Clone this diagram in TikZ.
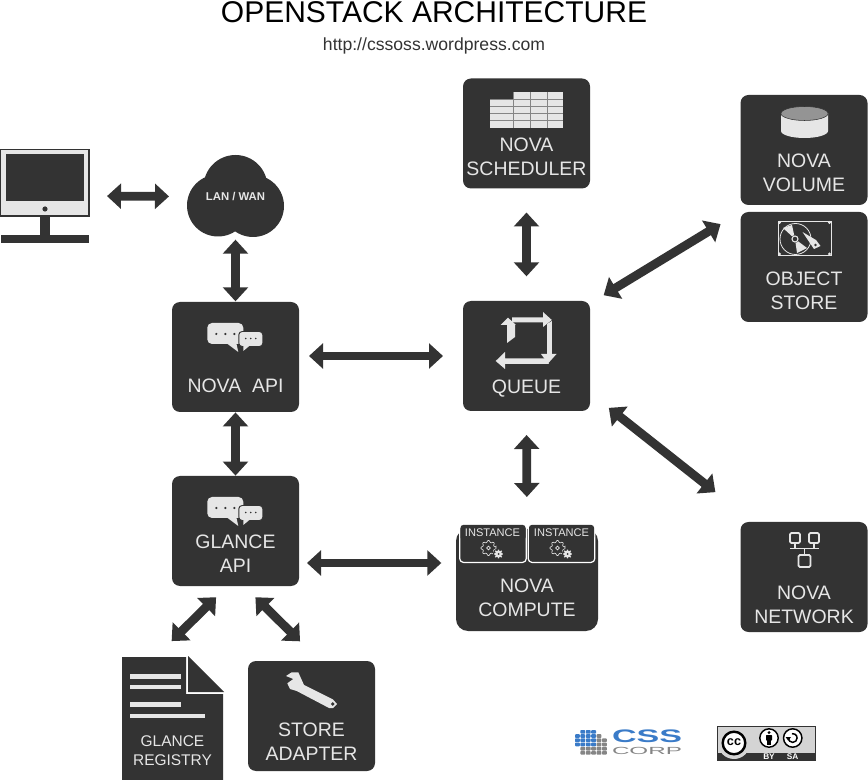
\documentclass[tikz,border=0pt]{standalone}
\usepackage{fontspec}
\setmainfont{Liberation Sans}
\usetikzlibrary{arrows.meta,calc}
\definecolor{dark}{HTML}{333333}
\definecolor{light}{HTML}{E6E6E6}
\definecolor{cssblue}{HTML}{3A7BC8}
\definecolor{cssgray}{HTML}{858585}
\tikzset{
  x=0.75pt,y=-0.75pt,
  panel/.style={fill=dark,rounded corners=6pt,inner sep=0pt,outer sep=0pt,minimum width=95.25pt,minimum height=82.5pt},
  ghost/.style={inner sep=0pt,outer sep=0pt},
  paneltext/.style={text=light,align=center,inner sep=0pt,font=\fontsize{14.6}{18}\selectfont},
  dblarrow/.style={draw=dark,line width=6.6pt,{Triangle[length=10.5pt,width=18.5pt]}-{Triangle[length=10.5pt,width=18.5pt]}},
  iconline/.style={draw=light,line width=1.3pt},
  pics/chat/.style={code={
    \fill[light,rounded corners=3.5pt] (0,0) rectangle (36,21);
    \fill[light] (19,20) -- (31,29) -- (29,20) -- cycle;
    \foreach \q in {9,18,27}{\fill[dark] (\q,11) circle (1.2);}
    \filldraw[fill=light,draw=dark,line width=.7pt,rounded corners=2.5pt] (31.5,8.5) rectangle (55.5,23.5);
    \fill[light] (36,23) -- (36,28) -- (42,23) -- cycle;
    \foreach \q in {38.5,43.5,48.5}{\fill[dark] (\q,15.5) circle (.9);}
  }},
  pics/gears/.style={code={
    \draw[light,line width=.5pt,rounded corners=.5pt] (-8:7.6) foreach \a in {0,45,...,315}{ -- (\a-8:7.6) -- (\a+8:7.6) -- (\a+14:5.8) -- (\a+31:5.8)} -- cycle;
    \draw[light,line width=.5pt] (0,0) circle (1.8);
    \fill[dark] (10,6) circle (5.6);
    \begin{scope}[shift={(10,6)}]
      \fill[light] (-8:4.5) foreach \a in {0,45,...,315}{ -- (\a-8:4.5) -- (\a+8:4.5) -- (\a+14:3.2) -- (\a+31:3.2)} -- cycle;
      \fill[dark] (0,0) circle (1);
    \end{scope}
  }}
}
\begin{document}
\begin{tikzpicture}
\useasboundingbox[fill=white] (0,0) rectangle (868,780);
% title
\node[ghost,font=\fontsize{22.5}{26}\selectfont,text=black] (title) at (434,12) {OPENSTACK ARCHITECTURE};
\node[ghost,font=\fontsize{13.2}{16}\selectfont,text=dark] (url) at (434,45.5) {http://cssoss.wordpress.com};

% panels
\node[panel] (sched) at (526.5,133.5) {};
\node[panel] (volume) at (804,150) {};
\node[panel] (object) at (804,267) {};
\node[panel] (queue) at (526.5,356) {};
\node[panel] (napi) at (235.5,357) {};
\node[panel] (gapi) at (235.5,531) {};
\node[panel] (network) at (804,577) {};
\node[panel] (store) at (311.5,716) {};
\node[fill=dark,rounded corners=9pt,inner sep=0pt,outer sep=0pt,minimum width=106.5pt,minimum height=76.5pt] (compute) at (527,580) {};

% monitor
\node[ghost,minimum width=66.75pt,minimum height=70.5pt] (monitor) at (44.5,196) {};
\fill[light,draw=dark,line width=.9pt] (0,149.5) rectangle (89,216);
\fill[dark] (6,154) rectangle (84,201);
\fill[dark] (45,209) circle (2.6);
\fill[dark] (40,216) rectangle (50,235);
\fill[dark] (1,235) rectangle (89,243.5);

% cloud
\fill[dark] (235.5,187) circle (32) (218,205.5) circle (31) (253,206) circle (31);
\node[ghost,minimum width=72.75pt,minimum height=60.75pt,text=light,font=\fontsize{8.5}{10}\selectfont\bfseries] (cloud) at (235.5,196.5) {LAN / WAN};

% scheduler icon
\fill[light] (514,92.3) rectangle (563,128.3);
\fill[light] (490,99.5) rectangle (514,128.3);
\foreach \yy in {99.6,106.4,113.5,120.8}{\draw[cssgray,line width=.6pt] (490,\yy) -- (563,\yy);}
\foreach \xx in {513.5,530.5,547}{\draw[cssgray,line width=.4pt] (\xx,92.3) -- (\xx,128.3);}
\node[paneltext] (schedt) at (526.5,157) {NOVA\\SCHEDULER};

% volume icon
\fill[light] (781,113) -- (781,131) arc[start angle=180,end angle=360,x radius=23.5,y radius=-7] -- (828,113) -- cycle;
\fill[cssgray!85!light,draw=dark,line width=.4pt] (804.5,113.5) ellipse (23.5 and 7);
\node[paneltext] (volumet) at (804,173) {NOVA\\VOLUME};

% object icon
\draw[light,line width=.7pt] (778,221) rectangle (831,255.5);
\foreach \cx/\cy in {779.5/222.5,829.5/222.5,779.5/254,829.5/254}{\fill[light] (\cx,\cy) circle (1.6);}
\draw[light,line width=.6pt] (795.5,239) circle (15.5);
\fill[light] (795,239) -- (783,228) -- (792,225) -- cycle;
\fill[light] (795,239) -- (797,253) -- (807,248) -- cycle;
\fill[dark] (795,239) circle (4);
\draw[light,line width=.8pt] (795,239) circle (3);
\fill[light] (802.5,232) -- (816,240) -- (820.5,246) -- (814,249) -- (808.5,241) -- cycle;
\fill[dark] (815.5,245) circle (1.4);
\node[paneltext] (objectt) at (804,291) {OBJECT\\STORE};

% queue icon
\fill[light] (512,317.5) -- (543,317.5) -- (543,312) -- (551.8,320) -- (543,327) -- (543,322.5) -- (512,322.5) -- cycle;
\fill[light] (547,324) -- (551.8,321) -- (551.8,354) -- (556.5,354) -- (548,363.5) -- (541,354) -- (547,354) -- cycle;
\fill[light] (505,352) -- (505,358.5) -- (546,358.5) -- (549,364) -- (505,364) -- (505,369) -- (495.7,361) -- cycle;
\fill[light] (508,317.7) -- (516,325) -- (515,325) -- (515,337) -- (507,343) -- (507,325) -- (500.5,325) -- cycle;
\node[paneltext] (queuet) at (526.5,389) {QUEUE};

% chat icons
\pic at (207.3,323) {chat};
\pic at (207.3,497) {chat};
\node[paneltext] (napit) at (235.5,386) {NOVA\ \ API};
\node[paneltext] (gapit) at (235.5,554) {GLANCE\\API};

% compute
\node[fill=dark,draw=white,line width=.9pt,rounded corners=3pt,inner sep=0pt,outer sep=0pt,minimum width=50pt,minimum height=28.5pt] (inst1) at (493,543.5) {};
\node[fill=dark,draw=white,line width=.9pt,rounded corners=3pt,inner sep=0pt,outer sep=0pt,minimum width=50pt,minimum height=28.5pt] (inst2) at (561.5,543.5) {};
\fill[white] (455,524) rectangle (598,528);
\fill[dark,rounded corners=2pt] (460.5,525) rectangle (525.5,540);
\fill[dark,rounded corners=2pt] (529,525) rectangle (594,540);
\node[paneltext,font=\fontsize{8.3}{10}\selectfont] (inst1t) at (492.5,532.5) {INSTANCE};
\node[paneltext,font=\fontsize{8.3}{10}\selectfont] (inst2t) at (561.5,532.5) {INSTANCE};
\pic at (488.5,548) {gears};
\pic at (557.5,548) {gears};
\node[paneltext] (computet) at (527,598) {NOVA\\COMPUTE};

% network icon
\draw[iconline,rounded corners=1pt] (790,533) rectangle (800,543);
\draw[iconline,rounded corners=1pt] (809,533) rectangle (819,543);
\draw[iconline,rounded corners=1pt] (798.5,555) rectangle (810.5,567);
\draw[iconline] (795,543) -- (795,548.5);
\draw[iconline] (814,543) -- (814,548.5);
\draw[iconline] (790,548.5) -- (819,548.5);
\draw[iconline] (804.5,548.5) -- (804.5,555);
\node[paneltext] (networkt) at (804,605) {NOVA\\NETWORK};

% registry
\node[ghost,minimum width=75.75pt,minimum height=92.25pt] (registry) at (172.5,718.5) {};
\fill[dark] (122,657) -- (186,657) -- (186,694) -- (223,694) -- (223,780) -- (122,780) -- cycle;
\fill[dark] (188,656) -- (224,692) -- (188,692) -- cycle;
\fill[light] (130,674) rectangle (181,678.5);
\fill[light] (130,685) rectangle (181,689);
\fill[light] (130,702) rectangle (181,706.5);
\fill[light] (130,713.5) rectangle (205,718);
\node[paneltext,font=\fontsize{11.6}{14.3}\selectfont] (registryt) at (172.5,750.5) {GLANCE\\REGISTRY};

% wrench
\fill[light] (286,676) -- (291.7,672.3) -- (298.3,672.3) -- (304,685) -- (333,699.5) -- (337,704) -- (333,708) -- (329,708) -- (296.7,691) -- (290,689) -- (287.3,683.3) -- (293.3,679) -- cycle;
\fill[dark] (332.7,704) circle (1.8);
\node[paneltext] (storet) at (311.5,741.5) {STORE\\ADAPTER};

% connectors
\draw[dblarrow,shorten <=13.5pt,shorten >=13.5pt] (monitor.east) -- (cloud.west);
\draw[dblarrow,shorten <=2pt,shorten >=.5pt] (cloud.south) -- (napi.north);
\draw[dblarrow,shorten <=.3pt,shorten >=.3pt] (napi.south) -- (gapi.north);
\draw[dblarrow,shorten <=7.5pt,shorten >=15pt] (napi.east |- queue.west) -- (queue.west);
\draw[dblarrow,shorten <=18pt,shorten >=18.5pt] (sched.south) -- (queue.north);
\draw[dblarrow,shorten <=18pt,shorten >=24pt] (queue.south) -- (compute.north);
\draw[dblarrow,shorten <=6pt,shorten >=11pt] ([shift={(0,32)}]gapi.east) -- ([shift={(0,-17)}]compute.west);
\draw[dblarrow,shorten <=12pt,shorten >=17.5pt] ([shift={(0,2.5)}]queue.north east) -- (object.north west);
\draw[dblarrow,shorten <=18pt,shorten >=24pt] ([shift={(0,-18)}]queue.south east) -- ([shift={(0,-10)}]network.north west);
\draw[dblarrow,shorten <=12pt,shorten >=17pt] ([shift={(-8,0)}]gapi.south) -- ([shift={(-17,0)}]registry.north);
\draw[dblarrow,shorten <=12pt,shorten >=21pt] ([shift={(8.5,0)}]gapi.south) -- ([shift={(8.5,0)}]store.north);

% css logo
\foreach \r/\c/\cc in {0/1/cssblue,0/2/cssblue,0/3/cssblue,
  1/0/cssblue,1/1/cssblue,1/2/cssblue,1/3/cssblue,1/4/cssgray,
  2/0/cssblue,2/1/cssblue,2/2/cssblue,2/3/cssblue,2/4/cssgray,2/5/cssgray,
  3/0/cssblue,3/1/cssblue,3/2/cssblue,3/3/cssblue,3/4/cssgray,3/5/cssgray,
  4/1/cssgray,4/2/cssgray,4/3/cssgray,4/4/cssgray,4/5/cssgray,
  5/1/cssgray,5/2/cssgray,5/3/cssgray,5/4/cssgray,5/5/cssgray}{
  \fill[\cc,rounded corners=.6pt] ({575+\c*5.4},{730+\r*4.2}) rectangle ++(4.8,3.7);
}
\node[ghost,text=cssblue] (csst) at (647,736.3) {\resizebox{52.5pt}{9.5pt}{\bfseries CSS}};
\node[ghost,text=cssgray] (corpt) at (647,750.5) {\resizebox{52.5pt}{5.4pt}{CORP}};

% cc badge
\fill[cssgray!35!white,draw=dark,line width=.6pt] (717.5,726.5) rectangle (815.5,760.5);
\fill[dark] (717.5,753) rectangle (815.5,760.5);
\fill[cssgray!35!white] (734,743) circle (16);
\fill[white,draw=black,line width=1.8pt] (734,743) circle (11.3);
\node[ghost,font=\fontsize{9.5}{10}\selectfont\bfseries] (cct) at (734,742.5) {cc};
\fill[white,draw=black,line width=1.1pt] (769,738) circle (9.2);
\fill[black] (769,732.6) circle (1.6);
\fill[black,rounded corners=.4pt] (766,735) rectangle (772,740.5);
\fill[black] (767.4,740) rectangle (770.6,745);
\fill[white,draw=black,line width=1.1pt] (792.7,738) circle (9.2);
\draw[black,line width=1.1pt] (788.3,738) arc[start angle=180,end angle=-100,radius=4.4];
\fill[black] (785.6,737) -- (791,737) -- (788.3,740.8) -- cycle;
\node[ghost,text=white,font=\fontsize{6.2}{7}\selectfont\bfseries] (byt) at (769,756.8) {BY};
\node[ghost,text=white,font=\fontsize{6.2}{7}\selectfont\bfseries] (sat) at (792.5,756.8) {SA};
\end{tikzpicture}
\end{document}
